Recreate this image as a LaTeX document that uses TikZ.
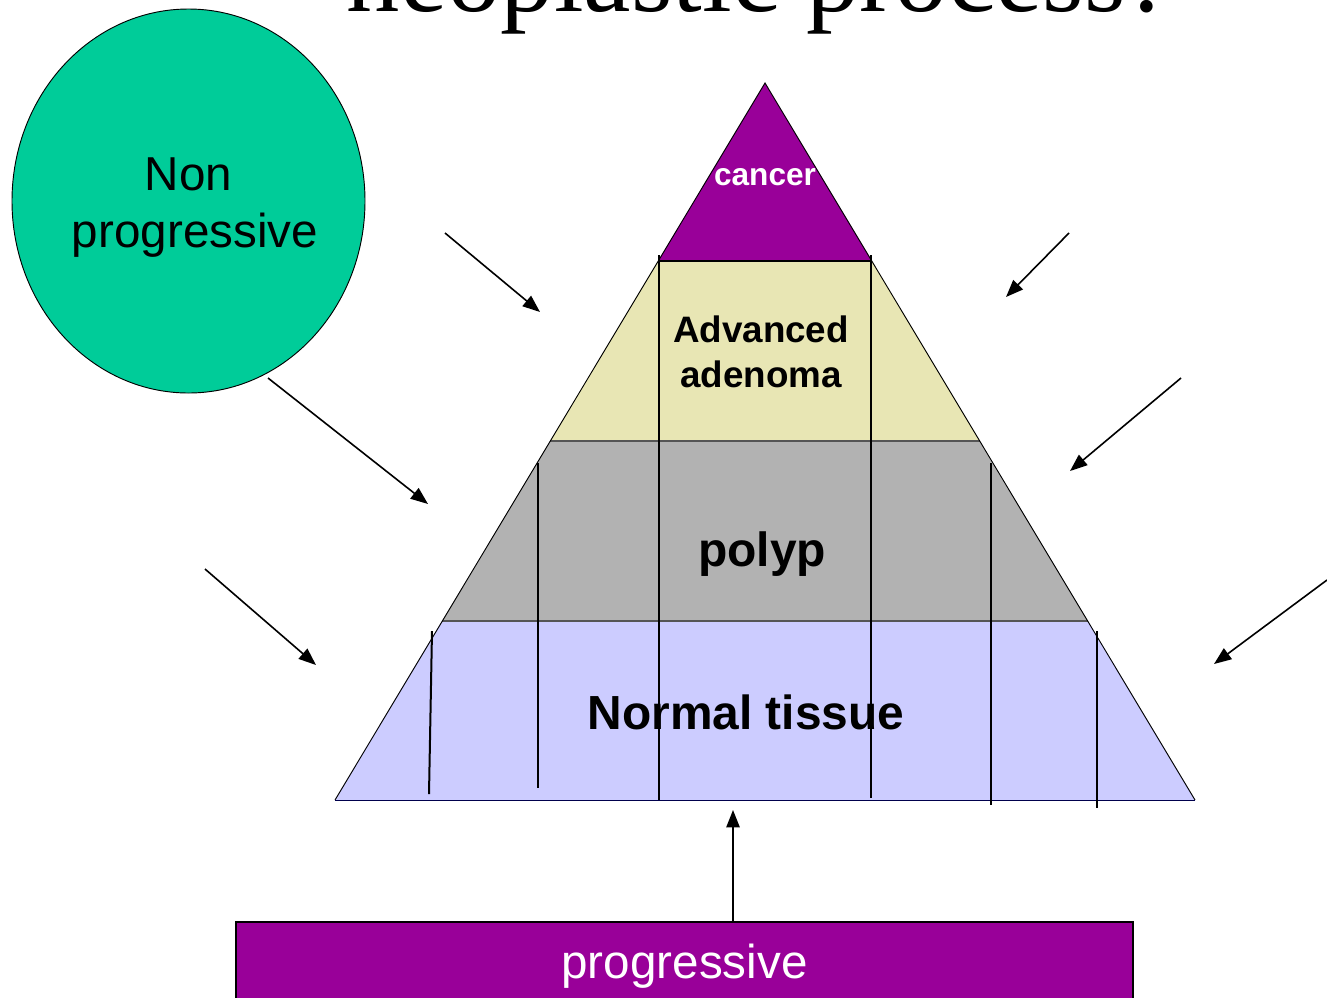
\documentclass[tikz,border=0pt]{standalone}
\usepackage{fontspec}
\setmainfont{Liberation Sans}
\newfontfamily\titlefont{Liberation Serif}
\usetikzlibrary{arrows.meta,shapes.geometric}
\definecolor{plum}{HTML}{990099}
\definecolor{khaki}{HTML}{E8E6B4}
\definecolor{polypgray}{HTML}{B2B2B2}
\definecolor{lavender}{HTML}{CCCCFF}
\definecolor{mint}{HTML}{00CC99}
\definecolor{seam}{HTML}{555555}

\begin{document}
\begin{tikzpicture}[x=0.75pt,y=-0.75pt,
  pointer/.style={-{Triangle[length=13pt,width=10pt]}, line width=1.2pt},
  divider/.style={line width=1.5pt},
  seamline/.style={draw=seam, line width=1.5pt},
  bandtext/.style={font=\bfseries, inner sep=0pt, align=center},
]
\useasboundingbox (0,0) rectangle (1327,997);

% title, partly above the page
\node[anchor=base, inner sep=0pt] (title) at (760,11)
  {\titlefont\fontsize{80}{92}\selectfont neoplastic process?};

% pyramid corners
\coordinate (apex) at (765,83);
\coordinate (bl) at (335,800);
\coordinate (br) at (1195,800);
\coordinate (c1l) at (658,261);  \coordinate (c1r) at (872,261);
\coordinate (c2l) at (550,441);  \coordinate (c2r) at (980,441);
\coordinate (c3l) at (442,621);  \coordinate (c3r) at (1088,621);

% bands
\fill[lavender]  (bl) -- (c3l) -- (c3r) -- (br) -- cycle;
\fill[polypgray] (c3l) -- (c2l) -- (c2r) -- (c3r) -- cycle;
\fill[khaki]     (c2l) -- (c1l) -- (c1r) -- (c2r) -- cycle;
\fill[plum]      (c1l) -- (apex) -- (c1r) -- cycle;

\draw[seamline] (c3l) -- (c3r);
\draw[seamline] (c2l) -- (c2r);
\draw[divider] (c1l) -- (c1r);
\draw[line width=0.7pt] (bl) -- (apex) -- (br);
\draw[draw=black!70!blue, line width=0.7pt] (bl) -- (br);

% vertical strokes
\draw[divider] (659,255) -- (659,800);
\draw[divider] (871,255) -- (871,798);
\draw[divider] (538,463) -- (538,788);
\draw[divider] (991,463) -- (991,805);
\draw[divider] (432,631) -- (429,794);
\draw[divider] (1097,631) -- (1097,808);

% band labels
\node[bandtext, text=white, font=\bfseries\fontsize{23.7}{28}\selectfont]
  (cancer) at (765,177) {cancer};
\node[bandtext, font=\bfseries\fontsize{27.6}{33.75}\selectfont]
  (adv) at (761,352) {Advanced\\adenoma};
\node[bandtext, anchor=base, font=\bfseries\fontsize{36}{43}\selectfont]
  (polyp) at (762,566) {polyp};
\node[bandtext, anchor=base, font=\bfseries\fontsize{35.9}{43}\selectfont]
  (normal) at (746,729) {Normal tissue};

% non progressive disc
\node[ellipse, draw=black, line width=0.7pt, fill=mint,
      minimum width=264.75pt, minimum height=288pt, inner sep=0pt]
  (nonprog) at (188.5,201) {};
\node[align=center, inner sep=0pt, font=\fontsize{35.7}{42.75}\selectfont]
  (nonprogtext) at (195,208) {Non\hspace*{9.9pt}\\progressive};

% progressive bar
\node[draw=black, line width=1.2pt, fill=plum, text=white,
      minimum width=672.75pt, minimum height=66pt, inner sep=0pt,
      anchor=north, font=\fontsize{35.7}{43}\selectfont]
  (prog) at (684.5,921) {progressive};

% arrows
\coordinate (a1s) at (445,233);   \coordinate (a1e) at (540,312);
\coordinate (a2s) at (1069,233);  \coordinate (a2e) at (1006,297);
\coordinate (a3s) at (268,378);   \coordinate (a3e) at (428,504);
\coordinate (a4s) at (1181,378);  \coordinate (a4e) at (1070,471);
\coordinate (a5s) at (205,569);   \coordinate (a5e) at (316,665);
\coordinate (a6s) at (1327,580);  \coordinate (a6e) at (1214,664);
\coordinate (uptip) at (733,810);

\draw[pointer] (a1s) -- (a1e);
\draw[pointer] (a2s) -- (a2e);
\draw[pointer] (a3s) -- (a3e);
\draw[pointer] (a4s) -- (a4e);
\draw[pointer] (a5s) -- (a5e);
\draw[pointer] (a6s) -- (a6e);
\draw[pointer] (prog.north -| uptip) -- (uptip);
\end{tikzpicture}
\end{document}
